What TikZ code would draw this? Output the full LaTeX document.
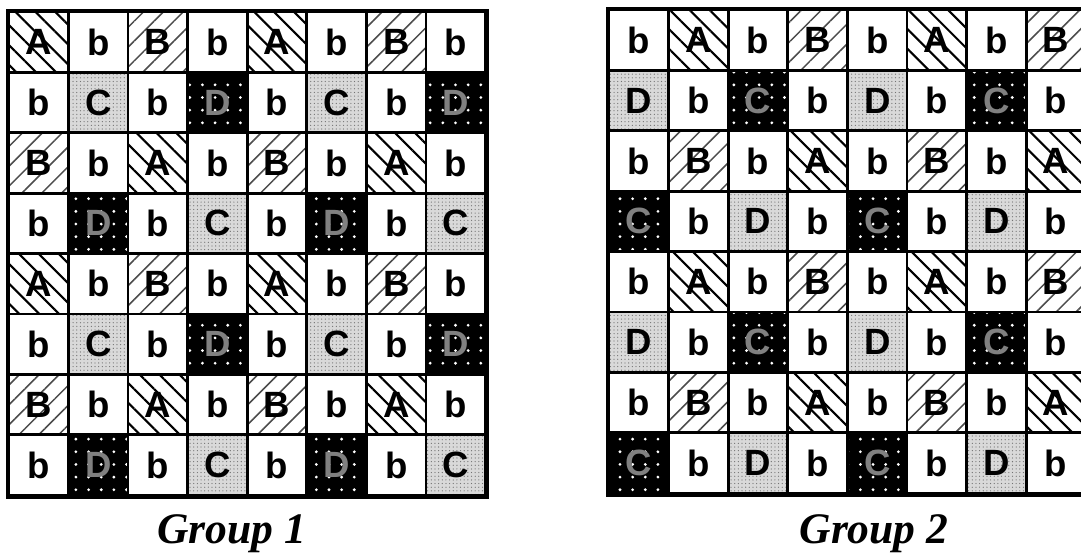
\documentclass[tikz,border=0pt]{standalone}
\usepackage{fontspec}
\setsansfont{Liberation Sans}
\newfontfamily\captionserif{Liberation Serif}
\usetikzlibrary{patterns.meta, positioning}

\begin{document}
\begin{tikzpicture}[
    cell/.style={draw, line width=2pt, minimum width=1.49cm, minimum height=1.51cm, inner sep=0pt, font=\sffamily\bfseries\fontsize{26}{26}\selectfont},
    frame/.style={draw, line width=2.7pt},
    grouplabel/.style={anchor=base, font=\captionserif\bfseries\itshape\fontsize{31}{31}\selectfont},
    plain/.style={},
    backslash hatch/.style={pattern={Lines[angle=-45, distance=10pt, line width=1.5pt]}},
    slash hatch/.style={pattern={Lines[angle=45, distance=10pt, line width=1.1pt]}, pattern color=black!70},
    stipple/.style={preaction={fill=black!15}, pattern={Dots[radius=0.45pt, distance=2.6pt]}, pattern color=black!55},
    dark dots/.style={preaction={fill=black}, pattern={Dots[radius=1.1pt, distance=9pt]}, pattern color=white, text=black!50},
    one-A/.style={backslash hatch}, one-B/.style={slash hatch}, one-b/.style={plain},
    one-C/.style={stipple}, one-D/.style={dark dots},
    two-A/.style={backslash hatch}, two-B/.style={slash hatch}, two-b/.style={plain},
    two-C/.style={dark dots}, two-D/.style={stipple}
]
    \useasboundingbox (0,0) rectangle (27.025,-13.825);

    \foreach \rowtext [count=\r] in {{A,b,B,b,A,b,B,b},{b,C,b,D,b,C,b,D},{B,b,A,b,B,b,A,b},{b,D,b,C,b,D,b,C},
                                     {A,b,B,b,A,b,B,b},{b,C,b,D,b,C,b,D},{B,b,A,b,B,b,A,b},{b,D,b,C,b,D,b,C}}
        \foreach \t [count=\c] in \rowtext
            \node[cell, one-\t] (g1-\r-\c) at ({0.22+(\c-0.5)*1.49}, {-0.3-(\r-0.5)*1.51}) {\t};

    \foreach \rowtext [count=\r] in {{b,A,b,B,b,A,b,B},{D,b,C,b,D,b,C,b},{b,B,b,A,b,B,b,A},{C,b,D,b,C,b,D,b},
                                     {b,A,b,B,b,A,b,B},{D,b,C,b,D,b,C,b},{b,B,b,A,b,B,b,A},{C,b,D,b,C,b,D,b}}
        \foreach \t [count=\c] in \rowtext
            \node[cell, two-\t] (g2-\r-\c) at ({15.225+(\c-0.5)*1.49}, {-0.25-(\r-0.5)*1.51}) {\t};

    \draw[frame] (g1-1-1.north west) rectangle (g1-8-8.south east);
    \draw[frame] (g2-1-1.north west) rectangle (g2-8-8.south east);

    \node[grouplabel] (label1) at (5.8,-13.575) {Group 1};
    \node[grouplabel] (label2) at (21.85,-13.575) {Group 2};
\end{tikzpicture}
\end{document}
